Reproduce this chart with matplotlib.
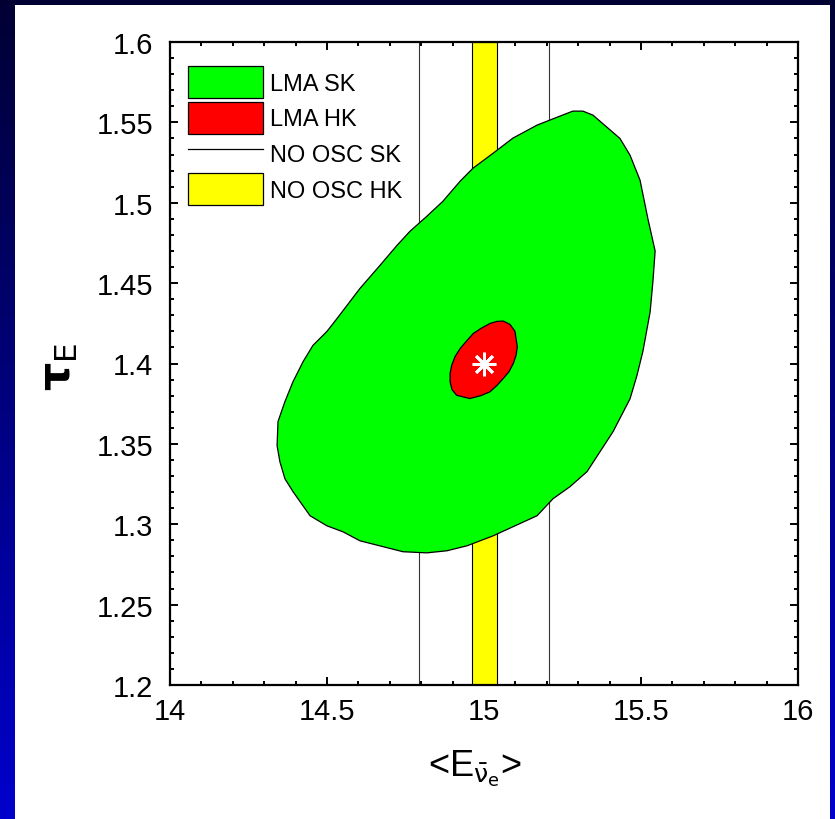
import numpy as np
import matplotlib
matplotlib.use("Agg")
import matplotlib.pyplot as plt
from matplotlib.patches import Patch, Rectangle
from matplotlib.lines import Line2D
from matplotlib.ticker import FixedLocator, MultipleLocator, FixedFormatter
from matplotlib import font_manager

names = {f.name for f in font_manager.fontManager.ttflist}
narrow = 'Liberation Sans Narrow' in names

plt.rcParams['font.family'] = ['Liberation Sans', 'DejaVu Sans']
plt.rcParams['mathtext.fontset'] = 'dejavusans'

# ---- data ----
sk_x = [15.283, 15.315, 15.347, 15.433, 15.465, 15.497, 15.522, 15.545, 15.538, 15.529,
        15.506, 15.487, 15.465, 15.411, 15.328, 15.274, 15.220, 15.169, 15.029, 14.946,
        14.882, 14.818, 14.742, 14.605, 14.551, 14.500, 14.446, 14.392, 14.366, 14.350,
        14.341, 14.344, 14.366, 14.392, 14.424, 14.455, 14.500, 14.532, 14.605, 14.669,
        14.723, 14.764, 14.818, 14.869, 14.924, 14.965, 15.029, 15.092, 15.169, 15.242]
sk_y = [1.557, 1.557, 1.5545, 1.540, 1.5296, 1.514, 1.490, 1.470, 1.4511, 1.432,
        1.4075, 1.3925, 1.378, 1.3576, 1.3327, 1.3234, 1.3159, 1.3053, 1.2928, 1.2866,
        1.2835, 1.2822, 1.2829, 1.2897, 1.2953, 1.2990, 1.3053, 1.3202, 1.3283, 1.3389,
        1.3489, 1.3639, 1.3763, 1.3888, 1.4012, 1.4112, 1.4200, 1.428, 1.4467, 1.4611,
        1.4735, 1.4822, 1.4916, 1.5009, 1.5134, 1.5215, 1.5308, 1.5402, 1.5483, 1.5539]
hk_x = [15.0615, 15.083, 15.0987, 15.106, 15.102, 15.0933, 15.080, 15.0615, 15.041, 15.019,
        14.990, 14.955, 14.913, 14.898, 14.892, 14.892, 14.897, 14.908, 14.924, 14.943,
        14.966, 14.990, 15.019, 15.041]
hk_y = [1.4264, 1.4243, 1.4200, 1.4104, 1.4050, 1.4000, 1.3950, 1.3907, 1.3863, 1.3824,
        1.3800, 1.3782, 1.3802, 1.3838, 1.3886, 1.3938, 1.3989, 1.4044, 1.4093, 1.4137,
        1.4187, 1.4218, 1.4249, 1.4262]
noosc_sk_x = [14.793, 15.207]
noosc_hk_range = [14.962, 15.040]
best_fit = [15.0, 1.4]
legend_labels = ['LMA SK', 'LMA HK', 'NO OSC SK', 'NO OSC HK']
xticks = [14, 14.5, 15, 15.5, 16]
xtick_labels = ['14', '14.5', '15', '15.5', '16']
yticks = [1.2, 1.25, 1.3, 1.35, 1.4, 1.45, 1.5, 1.55, 1.6]
ytick_labels = ['1.2', '1.25', '1.3', '1.35', '1.4', '1.45', '1.5', '1.55', '1.6']

W, H = 835, 820
fig = plt.figure(figsize=(W / 100, H / 100), dpi=100)

# background gradient frame
bg = fig.add_axes([0, 0, 1, 1], zorder=-10)
grad = np.linspace(0, 1, 256)
cols = np.zeros((256, 1, 3))
cols[:, 0, 2] = 0.8 - 0.6 * grad  # blue at bottom, dark navy at top
bg.imshow(cols, aspect='auto', extent=[0, 1, 0, 1], origin='lower')
bg.add_patch(Rectangle((15 / W, 0), (830 - 15) / W, (H - 6) / H, facecolor='white',
                       edgecolor='none', transform=bg.transAxes))
bg.set_xlim(0, 1); bg.set_ylim(0, 1)
bg.axis('off')

ax = fig.add_axes([170 / W, (H - 686) / H, 628 / W, 643 / H])
ax.set_facecolor('none')

for xv in noosc_sk_x:
    ax.axvline(xv, color='#333333', lw=0.8, zorder=1)
ax.axvspan(noosc_hk_range[0], noosc_hk_range[1], facecolor='#ffff00', edgecolor='black',
           lw=0.8, zorder=2)
ax.fill(sk_x, sk_y, facecolor='#00ff00', edgecolor='black', lw=0.9, zorder=3,
        joinstyle='round')
ax.fill(hk_x, hk_y, facecolor='#ff0000', edgecolor='black', lw=0.9, zorder=4,
        joinstyle='round')
ax.plot([best_fit[0]], [best_fit[1]], marker=(8, 2, 0), ms=17, mew=2, color='white', zorder=5)

ax.set_xlim(14, 16)
ax.set_ylim(1.2, 1.6)
ax.xaxis.set_major_locator(FixedLocator(xticks))
ax.xaxis.set_major_formatter(FixedFormatter(xtick_labels))
ax.xaxis.set_minor_locator(MultipleLocator(0.1))
ax.yaxis.set_major_locator(FixedLocator(yticks))
ax.yaxis.set_major_formatter(FixedFormatter(ytick_labels))
ax.yaxis.set_minor_locator(MultipleLocator(0.01))
ax.tick_params(which='both', direction='in', top=True, right=True, width=1.4, color='black')
ax.tick_params(which='major', length=6, labelsize=(23 if narrow else 21))
ax.tick_params(which='minor', length=3)
ax.tick_params(axis='x', which='major', pad=9)
ax.tick_params(axis='y', which='major', pad=12)
if narrow:
    for lab in ax.get_xticklabels() + ax.get_yticklabels():
        lab.set_fontfamily(['Liberation Sans Narrow', 'Liberation Sans'])
for s in ax.spines.values():
    s.set_linewidth(1.6)

handles = [Patch(facecolor='#00ff00', edgecolor='black', lw=0.9),
           Patch(facecolor='#ff0000', edgecolor='black', lw=0.9),
           Line2D([], [], color='black', lw=0.9),
           Patch(facecolor='#ffff00', edgecolor='black', lw=0.9)]
ax.legend(handles, legend_labels, loc='upper left',
          bbox_to_anchor=((188 - 170) / 628, 1 - (67 - 43) / 643),
          frameon=False, fontsize=17, handlelength=3.18, handleheight=1.7,
          labelspacing=0.16, handletextpad=0.3, borderpad=0, borderaxespad=0)

fig.text(475 / W, (H - 776) / H, r'<E$_{\bar{\mathrm{\nu}}_{\mathrm{e}}}$>', fontsize=26,
         ha='center', va='baseline')
fig.text(60 / W, (H - 367) / H, r'$\mathbf{\tau}_{\mathrm{E}}$', fontsize=32, rotation=90,
         ha='center', va='center')

fig.savefig('out.png', dpi=100)
